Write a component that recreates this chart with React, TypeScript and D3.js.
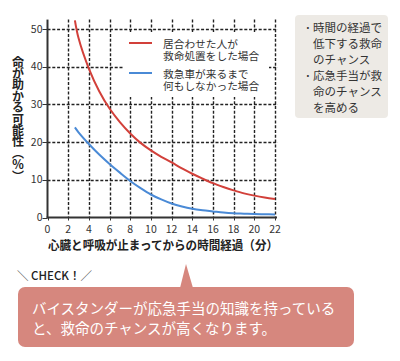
import React, { useEffect, useRef } from "react";
import * as d3 from "d3";

// minutes since heart & breathing stopped
const minutes = [2.65, 3, 4, 5, 6, 7, 8, 9, 10, 11, 12, 13, 14, 15, 16, 17, 18, 19, 20, 21, 22];
// someone present gave first aid (red)
const withAid = [52.3, 47.6, 39.5, 33.5, 28.9, 25.3, 22.3, 19.8, 17.8, 16.1, 14.6, 13.0, 11.6, 10.3, 9.1, 8.1, 7.2, 6.4, 5.8, 5.3, 4.9];
// nothing done until ambulance (blue)
const noAid = [23.9, 22.6, 19.5, 16.7, 14.2, 11.9, 9.7, 7.8, 6.1, 4.8, 3.7, 2.9, 2.3, 1.9, 1.6, 1.3, 1.1, 1.0, 0.9, 0.85, 0.8];

const xTicks = [0, 2, 4, 6, 8, 10, 12, 14, 16, 18, 20, 22];
const yTicks = [0, 10, 20, 30, 40, 50];

const yTitle = "命が助かる可能性（％）";
const xTitle = "心臓と呼吸が止まってからの時間経過（分）";
const legendRed = ["居合わせた人が", "救命処置をした場合"];
const legendBlue = ["救急車が来るまで", "何もしなかった場合"];
const noteLines = [
  ["・", "時間の経過で"],
  ["", "低下する救命"],
  ["", "のチャンス"],
  ["・", "応急手当が救"],
  ["", "命のチャンス"],
  ["", "を高める"],
];
const calloutLines = ["バイスタンダーが応急手当の知識を持っている", "と、救命のチャンスが高くなります。"];

const FONT = "'Noto Sans CJK JP', 'Noto Sans', sans-serif";
const RED = "#d2403a";
const BLUE = "#4a8ad6";
const INK = "#333";

export default function App() {
  const ref = useRef<SVGSVGElement>(null);

  useEffect(() => {
    const svg = d3.select(ref.current);
    svg.selectAll("*").remove();

    const x = d3.scaleLinear().domain([0, 22]).range([47.5, 275]);
    const y = d3.scaleLinear().domain([0, 50]).range([217.5, 29]);
    const yTop = 52.5;
    const px = (v: number) => Math.round(v) + 0.5;

    // grid (dotted)
    const vLines = xTicks.filter(d => d > 0);
    const hLines = yTicks.filter(d => d > 0);
    const grid = svg.append("g");
    vLines.forEach(d => {
      grid.append("path")
        .attr("d", `M${px(x(d))},${y(yTop)}V${y(0)}`)
        .attr("fill", "none")
        .attr("stroke", "#222")
        .attr("stroke-width", 1.4)
        .attr("stroke-dasharray", "3 1.8");
    });
    hLines.forEach(d => {
      grid.append("path")
        .attr("d", `M${x(0)},${px(y(d))}H${x(22) + 3}`)
        .attr("fill", "none")
        .attr("stroke", "#222")
        .attr("stroke-width", 1.4)
        .attr("stroke-dasharray", "3 1.8");
    });

    // legend box hides the grid
    svg.append("rect")
      .attr("x", 123).attr("y", 32)
      .attr("width", 146).attr("height", 65)
      .attr("fill", "#fff");

    // axes
    svg.append("line")
      .attr("x1", x(0)).attr("x2", x(0))
      .attr("y1", y(yTop)).attr("y2", y(0))
      .attr("stroke", INK).attr("stroke-width", 2);
    svg.append("line")
      .attr("x1", x(0) - 1).attr("x2", x(22) + 2)
      .attr("y1", y(0)).attr("y2", y(0))
      .attr("stroke", INK).attr("stroke-width", 2);

    yTicks.forEach(d => {
      svg.append("line")
        .attr("x1", x(0) - 5).attr("x2", x(0))
        .attr("y1", px(y(d))).attr("y2", px(y(d)))
        .attr("stroke", INK).attr("stroke-width", 1);
      svg.append("text")
        .attr("x", x(0) - 5).attr("y", y(d))
        .attr("dy", "0.35em")
        .attr("text-anchor", "end")
        .attr("font-size", 10.5)
        .attr("fill", INK)
        .text(d);
    });
    xTicks.forEach(d => {
      svg.append("line")
        .attr("x1", px(x(d))).attr("x2", px(x(d)))
        .attr("y1", y(0)).attr("y2", y(0) + 3)
        .attr("stroke", INK).attr("stroke-width", 1);
      svg.append("text")
        .attr("x", x(d)).attr("y", y(0) + 12)
        .attr("dy", "0.35em")
        .attr("text-anchor", "middle")
        .attr("font-size", 10.5)
        .attr("fill", INK)
        .text(d);
    });

    // lines
    const line = d3.line<number>()
      .x((d, i) => x(minutes[i]))
      .y(d => y(d))
      .curve(d3.curveCatmullRom.alpha(0.5));
    svg.append("path").datum(withAid)
      .attr("d", line).attr("fill", "none")
      .attr("stroke", RED).attr("stroke-width", 2);
    svg.append("path").datum(noAid)
      .attr("d", line).attr("fill", "none")
      .attr("stroke", BLUE).attr("stroke-width", 2);

    // legend
    const legend = [
      { color: RED, lines: legendRed, cy: 43 },
      { color: BLUE, lines: legendBlue, cy: 73 },
    ];
    legend.forEach(l => {
      svg.append("line")
        .attr("x1", 129).attr("x2", 152)
        .attr("y1", l.cy).attr("y2", l.cy)
        .attr("stroke", l.color).attr("stroke-width", 2);
      l.lines.forEach((t, i) => {
        svg.append("text")
          .attr("x", 163).attr("y", l.cy + 1 + i * 12.5)
          .attr("dy", "0.35em")
          .attr("font-size", 10.7)
          .attr("fill", INK)
          .text(t);
      });
    });

    // titles
    svg.append("text")
      .attr("x", 18).attr("y", 56)
      .attr("writing-mode", "vertical-rl")
      .attr("font-size", 12)
      .attr("font-weight", "bold")
      .attr("letter-spacing", -0.6)
      .attr("fill", "#222")
      .text(yTitle);
    svg.append("text")
      .attr("x", 48).attr("y", 246)
      .attr("dy", "0.35em")
      .attr("textLength", 230)
      .attr("lengthAdjust", "spacingAndGlyphs")
      .attr("font-size", 12.5)
      .attr("font-weight", "bold")
      .attr("fill", "#222")
      .text(xTitle);

    // side note
    svg.append("rect")
      .attr("x", 295).attr("y", 15)
      .attr("width", 93).attr("height", 103)
      .attr("rx", 4)
      .attr("fill", "#edeae5");
    noteLines.forEach((l, i) => {
      if (l[0]) {
        svg.append("text")
          .attr("x", 305).attr("y", 28 + i * 16)
          .attr("dy", "0.35em")
          .attr("font-size", 11.5)
          .attr("fill", INK)
          .text("･");
      }
      svg.append("text")
        .attr("x", 313).attr("y", 28 + i * 16)
        .attr("dy", "0.35em")
        .attr("font-size", 11.5)
        .attr("fill", INK)
        .text(l[1]);
    });

    // check label
    svg.append("text")
      .attr("x", 17).attr("y", 276)
      .attr("dy", "0.35em")
      .attr("font-size", 11.5)
      .attr("font-weight", 500)
      .attr("fill", "#222")
      .text("＼ CHECK！／");

    // callout bubble
    const bubble = svg.append("g").attr("fill", "#d6877e");
    bubble.append("rect")
      .attr("x", 18).attr("y", 287)
      .attr("width", 336).attr("height", 60)
      .attr("rx", 7);
    bubble.append("path")
      .attr("d", "M180,288 L186,264 L193,288 Z");
    calloutLines.forEach((t, i) => {
      svg.append("text")
        .attr("x", 32).attr("y", 309 + i * 20)
        .attr("dy", "0.35em")
        .attr("font-size", 14.5)
        .attr("fill", "#fff")
        .text(t);
    });
  }, []);

  return (
    <div style={{ position: "absolute", left: 0, top: 0 }}>
      <svg ref={ref} width={400} height={361} style={{ display: "block", fontFamily: FONT }} />
    </div>
  );
}
